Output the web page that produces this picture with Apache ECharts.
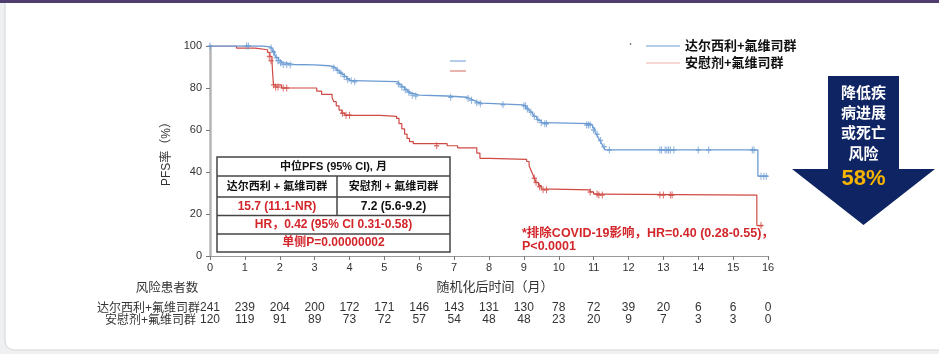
<!DOCTYPE html>
<html><head><meta charset="utf-8">
<script src="https://cdn.jsdelivr.net/npm/echarts@6/dist/echarts.min.js"></script>
<style>html,body{margin:0;padding:0;background:#eef0f2;}#c{width:939px;height:354px;}</style>
</head><body><div id="c"></div>
<script>
// ---- data ----
const months = [0,1,2,3,4,5,6,7,8,9,10,11,12,13,14,15,16];
const seriesNames = ['达尔西利+氟维司群','安慰剂+氟维司群'];
// KM steps [month, PFS%]
const blueSteps = [[0,100],[1.5,99.6],[1.72,99],[1.78,97.5],[1.85,96],[1.9,94.5],[1.97,93],[2.05,92],[2.15,91.2],[2.4,91],[3.0,90.6],[3.4,90.2],[3.55,89.5],[3.62,88.5],[3.7,87.5],[3.78,86.5],[3.85,85.5],[3.92,84.5],[4.0,83.5],[4.1,83],[5.35,82.5],[5.42,81.5],[5.5,80.5],[5.58,79.5],[5.65,78.5],[5.72,77.5],[5.8,76.6],[6.0,76.2],[6.8,75.6],[7.38,75],[7.45,74.2],[7.55,73.5],[7.65,72.8],[7.8,72],[8.98,71.5],[9.05,70.5],[9.12,69.5],[9.18,68.5],[9.25,67.5],[9.3,66.5],[9.37,65.5],[9.42,64.5],[9.5,63.5],[9.6,63],[10.9,62.4],[10.97,61],[11.03,59.5],[11.08,58],[11.13,56.5],[11.18,55],[11.23,53.5],[11.28,52],[11.33,50.5],[15.71,38],[16.0,38]];
const redSteps = [[0,100],[0.76,99],[1.3,98.2],[1.65,97],[1.72,95],[1.78,92],[1.8,86],[1.82,81.5],[2.05,80],[3.06,78.5],[3.2,77],[3.5,75.5],[3.55,73.5],[3.62,71.5],[3.7,69.5],[3.78,68],[3.87,67],[4.87,66.5],[5.35,65.5],[5.42,63],[5.5,60.5],[5.58,58],[5.65,56],[5.72,54.5],[5.83,53.5],[6.8,52.5],[7.1,51.5],[7.65,49],[7.74,46.5],[8.0,46],[9.08,45],[9.15,43],[9.2,41],[9.25,39],[9.3,37],[9.35,35],[9.42,33.5],[9.5,32],[9.55,31.5],[10.9,30.5],[11.0,29.5],[11.2,29],[15.68,14.5],[15.85,14.5]];
// censor marks
const blueCensor = [[0,100],[1.05,100],[1.1,100],[1.75,99],[1.82,97],[1.9,94.5],[1.95,93],[2.02,92],[2.1,91.2],[2.2,91.2],[2.3,91],[3.55,89.5],[3.65,88.5],[3.75,87],[3.85,85.5],[3.95,84],[4.05,83.5],[4.15,83],[5.4,82],[5.5,80.5],[5.6,79.2],[5.7,78],[5.8,76.6],[5.9,76.2],[6.9,75.6],[7.4,75],[7.5,74.2],[7.65,73],[7.75,72.5],[8.4,72],[9.0,71.5],[9.05,71.5],[9.1,70],[9.2,68.5],[9.3,66.5],[9.4,65],[9.5,63.5],[9.6,63],[9.65,63],[10.8,62.4],[10.85,62.4],[10.9,62.4],[11.0,60],[11.1,58],[11.2,55],[11.3,52],[11.45,50.5],[12.9,50.5],[12.95,50.5],[13.05,50.5],[13.1,50.5],[13.15,50.5],[13.2,50.5],[13.3,50.5],[14.0,50.5],[14.3,50.5],[15.55,50.5],[15.6,50.5],[15.8,38],[15.88,38],[15.95,38]];
const redCensor = [[1.7,95],[1.75,93],[1.82,81.5],[1.88,80.5],[1.95,80.5],[2.1,80],[2.2,80],[3.8,68],[3.9,67],[4.0,67],[6.5,52.5],[9.3,37],[9.35,35],[9.45,33],[9.55,31.5],[9.65,31.5],[10.9,30.5],[11.1,29.5],[11.15,29],[11.25,29],[12.9,29],[13.0,29],[13.2,29],[13.25,29],[15.8,14.5]];
// numbers at risk
const riskBlue = [241,239,204,200,172,171,146,143,131,130,78,72,39,20,6,6,0];
const riskRed = [120,119,91,89,73,72,57,54,48,48,23,20,9,7,3,3,0];
const yTicks = [0,20,40,60,80,100];

const BLUE = '#6b9bd2', RED = '#cf4a44', TRED = '#d3262b';
const FONT = 'Liberation Sans, "Noto Sans CJK SC", sans-serif';
const PLUS = 'path://M2,0H3V2H5V3H3V5H2V3H0V2H2Z';

const chart = echarts.init(document.getElementById('c'));

function txt(x,y,s,opt){return {type:'text',x:x,y:y,silent:true,z:20,style:Object.assign({text:s,font:'bold 11px '+FONT,fill:'#111',align:'center',verticalAlign:'middle'},opt||{})};}
function ln(x1,y1,x2,y2,c,w){return {type:'line',silent:true,z:19,shape:{x1:x1,y1:y1,x2:x2,y2:y2},style:{stroke:c,lineWidth:w}};}

const tL=217,tR=450,tM=337,rows=[157,176,197,215.5,234,252];
const graphics = [
  {type:'rect',z:-10,silent:true,shape:{x:5,y:-10,width:960,height:360,r:9},style:{fill:'#fff',stroke:'#d4d4d4',lineWidth:1}},
  {type:'rect',z:-9,silent:true,shape:{x:0,y:0,width:939,height:3},style:{fill:'#4e3d6e'}},
  // table
  {type:'rect',z:18,silent:true,shape:{x:tL,y:rows[0],width:tR-tL,height:rows[5]-rows[0]},style:{fill:'#fff',stroke:'#444',lineWidth:1.5}},
  ln(tL,rows[1],tR,rows[1],'#444',1.5),ln(tL,rows[2],tR,rows[2],'#444',1.5),ln(tL,rows[3],tR,rows[3],'#444',1.5),ln(tL,rows[4],tR,rows[4],'#444',1.5),
  ln(tM,rows[1],tM,rows[3],'#444',1.5),
  txt((tL+tR)/2,(rows[0]+rows[1])/2,'中位PFS (95% CI), 月'),
  txt((tL+tM)/2,(rows[1]+rows[2])/2,'达尔西利 + 氟维司群'),
  txt((tM+tR)/2,(rows[1]+rows[2])/2,'安慰剂 + 氟维司群'),
  txt((tL+tM)/2,(rows[2]+rows[3])/2,'15.7 (11.1-NR)',{fill:TRED,font:'bold 12px '+FONT}),
  txt((tM+tR)/2,(rows[2]+rows[3])/2,'7.2 (5.6-9.2)',{font:'bold 12px '+FONT}),
  txt((tL+tR)/2,(rows[3]+rows[4])/2,'HR，0.42 (95% CI 0.31-0.58)',{fill:TRED,font:'bold 12px '+FONT}),
  txt((tL+tR)/2,(rows[4]+rows[5])/2,'单侧P=0.00000002',{fill:TRED,font:'bold 12px '+FONT}),
  // annotation
  txt(522,234,'*排除COVID-19影响，HR=0.40 (0.28-0.55)，',{align:'left',fill:TRED,font:'bold 12.5px '+FONT}),
  txt(522,246.5,'P<0.0001',{align:'left',fill:TRED,font:'bold 12.5px '+FONT}),
  // legend
  ln(646,46,680,46,BLUE,1.2), ln(646,63,680,63,'#eeb0a8',1.2),
  txt(685,46,seriesNames[0],{align:'left',font:'bold 13px '+FONT}),
  txt(685,63,seriesNames[1],{align:'left',font:'bold 13px '+FONT}),
  ln(450,61,466,61,BLUE,1), ln(450,71,466,71,'#e39a92',1.5),
  {type:'circle',silent:true,shape:{cx:630.5,cy:44,r:0.8},style:{fill:'#333'}},
  // arrow
  {type:'polygon',silent:true,z:5,shape:{points:[[828,76],[899,76],[899,169],[935,169],[863.5,225],[792,169],[828,169]]},style:{fill:'#0f2462'}},
  txt(863.5,93.5,'降低疾',{fill:'#fff',font:'bold 15px '+FONT}),
  txt(863.5,114,'病进展',{fill:'#fff',font:'bold 15px '+FONT}),
  txt(863.5,134,'或死亡',{fill:'#fff',font:'bold 15px '+FONT}),
  txt(863.5,155,'风险',{fill:'#fff',font:'bold 15px '+FONT}),
  txt(863.5,179,'58%',{fill:'#f6b400',font:'bold 22px '+FONT}),
  // risk table labels
  txt(167,289,'风险患者数',{font:'12.5px '+FONT,fill:'#333'}),
  txt(200,309,seriesNames[0],{align:'right',font:'12px '+FONT,fill:'#333'}),
  txt(196,321,seriesNames[1],{align:'right',font:'12px '+FONT,fill:'#333'})
];

const baseX = {type:'value',min:0,max:16,interval:1,splitLine:{show:false}};
chart.setOption({
  animation:false,
  textStyle:{fontFamily:FONT},
  grid:{left:210,right:171,top:46,bottom:98,containLabel:false},
  xAxis:[
    Object.assign({},baseX,{
      name:'随机化后时间（月）',nameLocation:'middle',nameGap:25,
      nameTextStyle:{fontSize:13,color:'#333',padding:[0,0,0,12]},
      axisLine:{show:true,onZero:false,lineStyle:{color:'#9a9a9a',width:1}},
      axisTick:{show:true,length:4,lineStyle:{color:'#777'}},
      axisLabel:{fontSize:11,color:'#333',margin:6}
    }),
    Object.assign({},baseX,{position:'bottom',offset:46,axisLine:{show:false},axisTick:{show:false},
      axisLabel:{fontSize:12,color:'#333',margin:0,formatter:v=>String(riskBlue[Math.round(v)])}}),
    Object.assign({},baseX,{position:'bottom',offset:58,axisLine:{show:false},axisTick:{show:false},
      axisLabel:{fontSize:12,color:'#333',margin:0,formatter:v=>String(riskRed[Math.round(v)])}})
  ],
  yAxis:{type:'value',min:yTicks[0],max:yTicks[yTicks.length-1],interval:20,
    name:'PFS率（%）',nameLocation:'middle',nameGap:33,nameRotate:90,
    nameTextStyle:{fontSize:12,color:'#333'},
    axisLine:{show:true,lineStyle:{color:'#b5b5b5',width:2.5}},
    axisTick:{show:true,length:4,lineStyle:{color:'#777'}},
    axisLabel:{fontSize:11,color:'#333',margin:8},
    splitLine:{show:false}},
  graphic:graphics,
  series:[
    {name:seriesNames[1],type:'line',step:'end',data:redSteps,showSymbol:false,lineStyle:{color:RED,width:1.2},z:3},
    {name:seriesNames[0],type:'line',step:'end',data:blueSteps,showSymbol:false,lineStyle:{color:BLUE,width:1.3},z:4},
    {type:'scatter',data:redCensor,symbol:PLUS,symbolSize:[5,7],itemStyle:{color:RED},z:5},
    {type:'scatter',data:blueCensor,symbol:PLUS,symbolSize:[5,7],itemStyle:{color:BLUE},z:6}
  ]
});
</script></body></html>
